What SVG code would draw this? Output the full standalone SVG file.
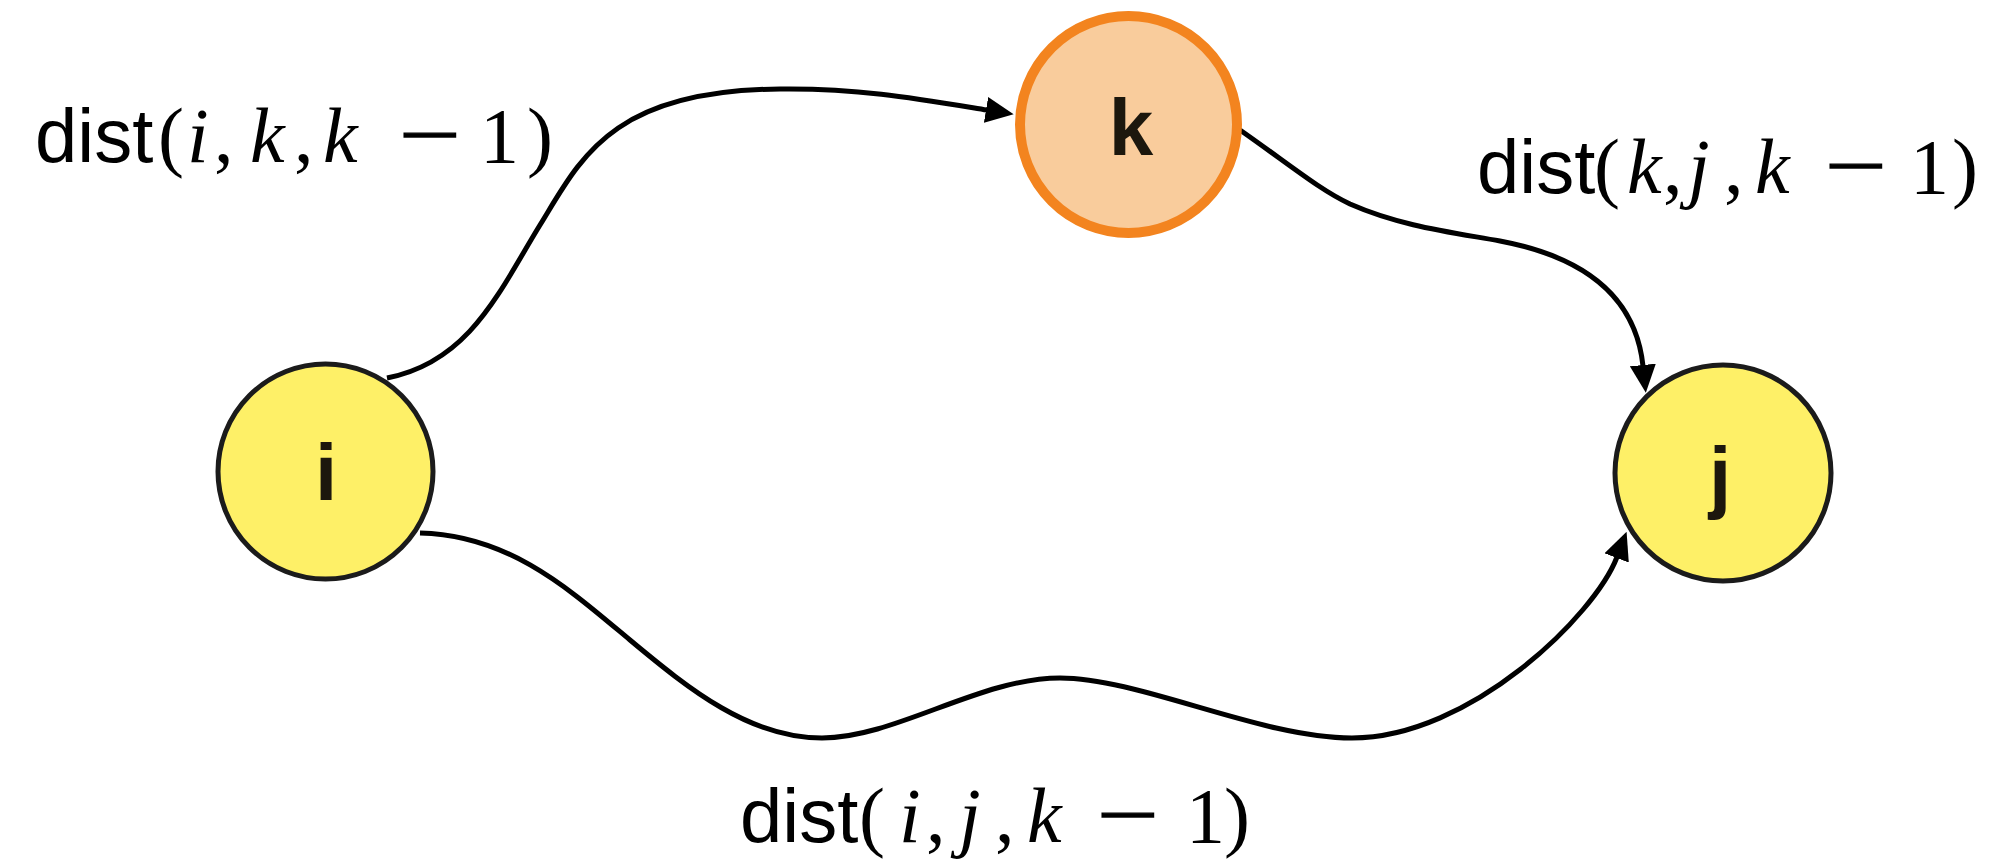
<svg xmlns="http://www.w3.org/2000/svg" width="1992" height="863" viewBox="0 0 1992 863">
<style>
.node-y{fill:#FEF067;stroke:#1B1B1B;stroke-width:5}
.node-o{fill:#F9CC9C;stroke:#F3841F;stroke-width:10}
.nlabel{font-family:"Liberation Sans",Arial,sans-serif;font-size:80px;font-weight:bold;fill:#1C170D;text-anchor:middle}
.edge{fill:none;stroke:#000;stroke-width:5}
.lbl{font-family:"Liberation Serif","Times New Roman",serif;font-size:78px;fill:#000}
.sans{font-family:"Liberation Sans",Arial,sans-serif;font-size:76px}
.it{font-style:italic}
.minus{stroke:#000;stroke-width:1.4}
</style>
<defs>
<marker id="arrow" markerUnits="userSpaceOnUse" markerWidth="28" markerHeight="26" refX="1" refY="13" orient="auto">
<path d="M0,0 L28,13 L0,26 z" fill="#000"/>
</marker>
</defs>
<g id="connectors">
<path id="e-i-k" class="edge" marker-end="url(#arrow)" d="M387,378 C470,362 500,290 540,225 C580,160 610,90 780,89 C860,88 920,99 987,110"/>
<path id="e-k-j" class="edge" marker-end="url(#arrow)" d="M1240,130 C1290,165 1320,190 1350,204 C1400,226 1450,232 1500,241 C1590,258 1636,300 1643,366"/>
<path id="e-i-j" class="edge" marker-end="url(#arrow)" d="M420,533 C510,535 570,590 630,640 C690,690 750,738 822,738 C895,738 980,678 1060,678 C1140,678 1260,738 1352,738 C1470,738 1595,615 1617,557"/>
</g>
<g id="node-k">
<circle class="node-o" cx="1128.5" cy="124.5" r="108.5"/>
<text class="nlabel" x="1131" y="155">k</text>
</g>
<g id="node-i">
<circle class="node-y" cx="325.5" cy="471.5" r="107.5"/>
<text class="nlabel" x="326" y="500">i</text>
</g>
<g id="node-j">
<circle class="node-y" cx="1723" cy="473" r="108"/>
<text class="nlabel" x="1720" y="503">j</text>
</g>
<g id="label-ik">
<text class="lbl" y="162"><tspan class="sans" x="35">dist</tspan><tspan x="158">(</tspan><tspan class="it" x="187">i</tspan><tspan x="214">,</tspan><tspan class="it" x="250">k</tspan><tspan x="294">,</tspan><tspan class="it" x="323">k</tspan><tspan x="480">1</tspan><tspan x="527">)</tspan></text>
<text class="lbl minus" transform="translate(399,161) scale(1.4,1)">−</text>
</g>
<g id="label-kj">
<text class="lbl" y="193"><tspan class="sans" x="1477">dist</tspan><tspan x="1594">(</tspan><tspan class="it" x="1627">k</tspan><tspan x="1663">,</tspan><tspan class="it" x="1688">j</tspan><tspan x="1724">,</tspan><tspan class="it" x="1755">k</tspan><tspan x="1910">1</tspan><tspan x="1952">)</tspan></text>
<text class="lbl minus" transform="translate(1825,192) scale(1.4,1)">−</text>
</g>
<g id="label-ij">
<text class="lbl" y="842"><tspan class="sans" x="740">dist</tspan><tspan x="859">(</tspan><tspan class="it" x="899">i</tspan><tspan x="926">,</tspan><tspan class="it" x="959">j</tspan><tspan x="995">,</tspan><tspan class="it" x="1027">k</tspan><tspan x="1186">1</tspan><tspan x="1224">)</tspan></text>
<text class="lbl minus" transform="translate(1097,841) scale(1.4,1)">−</text>
</g>
</svg>
